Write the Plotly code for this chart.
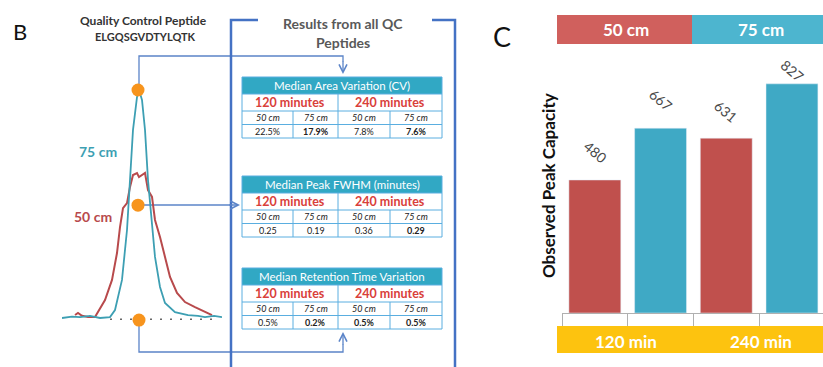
import plotly.graph_objects as go

W, H = 823, 367
FONT = "Lato, 'Open Sans', sans-serif"

# ---------------- data ----------------
# Panel B chromatogram (retention time in min offset, relative intensity %)
t_75 = [0.00, 0.10, 0.18, 0.28, 0.38, 0.48, 0.53, 0.60, 0.65, 0.68, 0.71, 0.75, 0.77,
        0.80, 0.83, 0.86, 0.90, 0.93, 0.98, 1.03, 1.13, 1.26, 1.36, 1.43, 1.52, 1.60]
i_75 = [0.0, 0.6, 0.4, 0.9, 0.0, 0.4, 3.5, 16.7, 38.6, 60.5, 82.5, 96.9, 100.0,
        95.6, 82.5, 60.5, 43.0, 26.8, 13.6, 6.6, 2.6, 1.3, 0.9, 0.4, 0.9, 0.4]
t_50 = [0.13, 0.16, 0.20, 0.26, 0.33, 0.36, 0.43, 0.50, 0.55, 0.58, 0.61, 0.65, 0.68,
        0.71, 0.75, 0.77, 0.80, 0.83, 0.86, 0.90, 0.93, 0.98, 1.03, 1.08, 1.15, 1.23,
        1.33, 1.43, 1.50]
i_50 = [1.3, 2.2, 1.0, 0.4, 0.4, 2.6, 7.9, 16.7, 28.5, 39.9, 48.2, 50.4, 57.5,
        62.7, 63.6, 61.8, 62.7, 63.6, 56.1, 53.1, 43.0, 35.5, 26.8, 18.0, 11.0, 7.0,
        4.8, 2.6, 1.3]
marker_t = [0.76, 0.76, 0.77]      # apex, half height, baseline
marker_i = [100.0, 49.5, -0.9]
baseline_t = [0.48, 1.50]

# QC tables
table_titles = ["Median Area Variation (CV)", "Median Peak FWHM (minutes)",
                "Median Retention Time Variation"]
gradient_labels = ["120 minutes", "240 minutes"]
column_labels = ["50 cm", "75 cm", "50 cm", "75 cm"]
table_values = [["22.5%", "17.9%", "7.8%", "7.6%"],
                ["0.25", "0.19", "0.36", "0.29"],
                ["0.5%", "0.2%", "0.5%", "0.5%"]]
table_bold = [[False, True, False, True],
              [False, False, False, True],
              [False, True, True, True]]

# Panel C bars
categories = ["120 min / 50 cm", "120 min / 75 cm", "240 min / 50 cm", "240 min / 75 cm"]
peak_capacity = [480, 667, 631, 827]
column_lengths = ["50 cm", "75 cm"]
gradients = ["120 min", "240 min"]

# ---------------- style ----------------
RED = "#c0504d"
TEAL = "#3fa9c5"
RED_LINE = "#b84a4c"
TEAL_LINE = "#3d9fb3"
ORANGE = "#f7941d"
CONN = "#5b84c8"
BRACKET = "#4472c4"
TBL_BORDER = "#5aaee0"
TBL_HEAD = "#31a8c4"
GRAY_TXT = "#595959"


def X(p):
    return p / W


def Y(p):
    return 1 - p / H


shapes = []
annotations = []


def text(px, py, s, size, color, **kw):
    d = dict(x=X(px), y=Y(py), xref="paper", yref="paper", text=s, showarrow=False,
             xanchor="center", yanchor="middle", font=dict(size=size, color=color))
    d.update(kw)
    annotations.append(d)


fig = go.Figure()

# ---- chromatogram traces ----
fig.add_trace(go.Scatter(x=t_50, y=i_50, mode="lines", xaxis="x2", yaxis="y2",
                         line=dict(color=RED_LINE, width=2), hoverinfo="skip"))
fig.add_trace(go.Scatter(x=t_75, y=i_75, mode="lines", xaxis="x2", yaxis="y2",
                         line=dict(color=TEAL_LINE, width=1.8), hoverinfo="skip"))
fig.add_trace(go.Scatter(x=baseline_t, y=[-0.5, -0.5], mode="lines", xaxis="x2", yaxis="y2",
                         line=dict(color="#666666", width=1.5, dash="2px,8px"), hoverinfo="skip"))
fig.add_trace(go.Scatter(x=marker_t, y=marker_i, mode="markers", xaxis="x2", yaxis="y2",
                         marker=dict(color=ORANGE, size=13), cliponaxis=False, hoverinfo="skip"))

# ---- bars ----
x_pos = list(range(len(categories)))
bar_colors = [RED, TEAL, RED, TEAL]
fig.add_trace(go.Bar(x=x_pos, y=peak_capacity, width=0.79, marker=dict(color=bar_colors),
                     hovertext=categories, hoverinfo="text+y"))
label_shift = [28, 29, 27, 13]
for xi, v, s in zip(x_pos, peak_capacity, label_shift):
    annotations.append(dict(x=xi, y=v, xref="x", yref="y", text=str(v), showarrow=False,
                            xanchor="center", yanchor="middle",
                            textangle=40, yshift=s, font=dict(size=14, color="#4a4a4a")))

# ---- panel labels & titles ----
text(20, 31, "B", 22, "#111111")
text(502, 36, "C", 27, "#111111")
text(143, 21, "<b>Quality Control Peptide</b>", 12, "#333333")
text(145, 36, "<b>ELGQSGVDTYLQTK</b>", 11, "#333333")
text(98, 151, "<b>75 cm</b>", 14, TEAL_LINE)
text(93, 217, "<b>50 cm</b>", 14, RED_LINE)
text(343, 23, "<b>Results from all QC</b>", 14, GRAY_TXT)
text(343, 42, "<b>Peptides</b>", 14, GRAY_TXT)


# ---- bracket around results ----
def path(pts):
    return "M " + " L ".join(f"{X(a):.5f},{Y(b):.5f}" for a, b in pts)


shapes.append(dict(type="path", xref="paper", yref="paper", path=path([(258, 20), (231, 20), (231, 370)]),
                   line=dict(color=BRACKET, width=2.5)))
shapes.append(dict(type="path", xref="paper", yref="paper", path=path([(432, 20), (455, 20), (455, 370)]),
                   line=dict(color=BRACKET, width=2.5)))

# ---- connector lines ----
for pts in ([(139, 94), (139, 56), (343, 56), (343, 62)],
            [(139, 205), (230, 205)],
            [(139, 322), (139, 352), (343, 352), (343, 344)]):
    shapes.append(dict(type="path", xref="paper", yref="paper", path=path(pts), layer="below",
                       line=dict(color=CONN, width=1.3)))
for tip, off in (((343, 74), (0, -14)), ((240, 205), (-12, 0)), ((343, 332), (0, 14))):
    annotations.append(dict(x=X(tip[0]), y=Y(tip[1]), xref="paper", yref="paper",
                            ax=off[0], ay=off[1], showarrow=True, arrowhead=5, arrowsize=1.2,
                            arrowwidth=1.3, arrowcolor=CONN, text=""))

# ---- QC tables ----
col_edges = [242, 293, 338, 390, 442]
row_h = [17, 17, 13.5, 13.5]
tops = [77, 176, 268]
for k, top in enumerate(tops):
    r = [top]
    for h in row_h:
        r.append(r[-1] + h)
    x0, x1 = col_edges[0], col_edges[-1]
    shapes.append(dict(type="rect", xref="paper", yref="paper", x0=X(x0), x1=X(x1), y0=Y(r[0]), y1=Y(r[1]),
                       fillcolor=TBL_HEAD, line=dict(width=0)))
    shapes.append(dict(type="rect", xref="paper", yref="paper", x0=X(x0), x1=X(x1), y0=Y(r[0]), y1=Y(r[4]),
                       line=dict(color=TBL_BORDER, width=1)))
    for yy in r[1:4]:
        shapes.append(dict(type="line", xref="paper", yref="paper", x0=X(x0), x1=X(x1), y0=Y(yy), y1=Y(yy),
                           line=dict(color=TBL_BORDER, width=1)))
    shapes.append(dict(type="line", xref="paper", yref="paper", x0=X(col_edges[2]), x1=X(col_edges[2]),
                       y0=Y(r[1]), y1=Y(r[4]), line=dict(color=TBL_BORDER, width=1)))
    for cx in (col_edges[1], col_edges[3]):
        shapes.append(dict(type="line", xref="paper", yref="paper", x0=X(cx), x1=X(cx),
                           y0=Y(r[2]), y1=Y(r[4]), line=dict(color=TBL_BORDER, width=1)))
    text((x0 + x1) / 2, (r[0] + r[1]) / 2, table_titles[k], 11.5, "white")
    for g, lab in enumerate(gradient_labels):
        cx = (col_edges[2 * g] + col_edges[2 * g + 2]) / 2
        text(cx, (r[1] + r[2]) / 2, f"<b>{lab}</b>", 12.5, "#d9403a")
    for c in range(4):
        cx = (col_edges[c] + col_edges[c + 1]) / 2
        text(cx, (r[2] + r[3]) / 2, f"<i>{column_labels[c]}</i>", 9, "#222222")
        v = table_values[k][c]
        text(cx, (r[3] + r[4]) / 2, f"<b>{v}</b>" if table_bold[k][c] else v, 9, "#222222")

# ---- panel C legend bands ----
band_cols = ["#d0605d", "#4db5cf"]
band_edges = [557, 692, 826]
for i, lab in enumerate(column_lengths):
    shapes.append(dict(type="rect", xref="paper", yref="paper", x0=X(band_edges[i]), x1=X(band_edges[i + 1]),
                       y0=Y(15), y1=Y(44), fillcolor=band_cols[i], line=dict(width=0)))
    text(band_edges[i] + 69, 30, f"<b>{lab}</b>", 17, "white")
shapes.append(dict(type="rect", xref="paper", yref="paper", x0=X(557), x1=X(826), y0=Y(326), y1=Y(353),
                   fillcolor="#fdc30f", line=dict(width=0)))
for i, lab in enumerate(gradients):
    text(band_edges[i] + 69, 341, f"<b>{lab}</b>", 17, "white")
text(548, 186, "<b>Observed Peak Capacity</b>", 17, "#111111", textangle=-90)

cat_w = 65.7
fig.update_layout(
    width=W, height=H, margin=dict(l=0, r=0, t=0, b=0),
    paper_bgcolor="white", plot_bgcolor="rgba(0,0,0,0)",
    font=dict(family=FONT), showlegend=False,
    xaxis=dict(domain=[X(562), 1.0], range=[-0.5, -0.5 + (W - 562) / cat_w],
               tickvals=[-0.5, 0.5, 1.5, 2.5, 3.5], showticklabels=False, ticks="outside",
               ticklen=13, tickwidth=1.2, tickcolor="#b0b0b0", showline=True, linecolor="#b0b0b0",
               linewidth=1.2, showgrid=False, zeroline=False),
    yaxis=dict(domain=[Y(313), Y(313 - 900 * 0.2771)], range=[0, 900], visible=False),
    xaxis2=dict(domain=[X(62), X(222)], range=[0, 1.6], visible=False, anchor="y2"),
    yaxis2=dict(domain=[Y(318 + 5 * 2.28), Y(90)], range=[-5, 100], visible=False, anchor="x2"),
    shapes=shapes, annotations=annotations,
)

fig.write_html("out.html", config={"displayModeBar": False},
               post_script="document.body.style.margin='0';document.body.style.overflow='hidden';")
